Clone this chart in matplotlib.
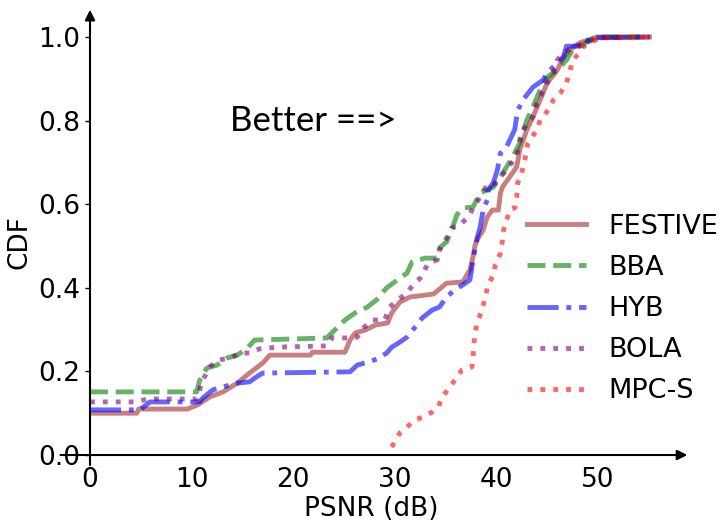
import matplotlib
matplotlib.use("Agg")
import matplotlib.pyplot as plt

# CDF curves (PSNR in dB, cumulative fraction)
festive_x = [0, 4.6, 4.8, 9.6, 10.6, 11.8, 13.1, 14.5, 15.7, 17.0, 17.7, 21.7, 21.9, 25.1,
             25.6, 26.1, 27.1, 28.1, 29.3, 29.7, 30.5, 31.5, 33.8, 34.3, 35.1, 36.7, 37.1,
             37.4, 37.7, 37.9, 38.2, 38.7, 39.1, 39.6, 40.2, 40.4, 40.6, 41.3, 42.0, 42.3,
             43.0, 43.6, 44.3, 45.0, 46.0, 46.6, 47.2, 48.2, 49.9, 55.4]
festive_y = [0.100, 0.100, 0.110, 0.110, 0.120, 0.139, 0.151, 0.172, 0.196, 0.220, 0.239,
             0.239, 0.246, 0.246, 0.275, 0.292, 0.299, 0.311, 0.316, 0.340, 0.366, 0.378,
             0.385, 0.395, 0.411, 0.414, 0.431, 0.443, 0.474, 0.502, 0.519, 0.538, 0.569,
             0.586, 0.586, 0.627, 0.641, 0.665, 0.689, 0.730, 0.778, 0.809, 0.849, 0.890,
             0.921, 0.952, 0.969, 0.986, 1.0, 1.0]

bba_x = [0, 10.5, 10.8, 11.5, 12.5, 13.5, 14.5, 15.5, 16.2, 23.3, 24.3, 25.1, 26.1, 27.3,
         28.2, 29.2, 30.0, 30.5, 31.2, 31.7, 33.0, 34.2, 34.4, 35.1, 35.7, 36.1, 36.7, 37.7,
         38.4, 39.1, 39.7, 40.4, 41.0, 41.6, 42.3, 43.0, 43.6, 44.3, 45.0, 46.0, 46.9, 47.5,
         48.5, 49.2, 50.2, 54.1]
bba_y = [0.151, 0.151, 0.179, 0.208, 0.215, 0.232, 0.239, 0.256, 0.275, 0.280, 0.304, 0.323,
         0.340, 0.354, 0.371, 0.400, 0.414, 0.423, 0.435, 0.462, 0.471, 0.471, 0.495, 0.510,
         0.545, 0.574, 0.591, 0.593, 0.627, 0.634, 0.641, 0.665, 0.689, 0.713, 0.746, 0.801,
         0.833, 0.873, 0.904, 0.921, 0.945, 0.969, 0.981, 0.993, 1.0, 1.0]

hyb_x = [0, 4.9, 5.9, 10.8, 11.1, 12.1, 13.1, 14.5, 15.7, 16.4, 17.0, 25.6, 26.3, 27.3,
         28.3, 29.2, 29.7, 30.5, 31.2, 32.0, 32.7, 33.7, 34.4, 35.1, 35.9, 36.7, 37.4, 37.7,
         38.1, 38.4, 38.7, 39.1, 39.2, 39.7, 40.1, 40.4, 41.0, 41.8, 42.1, 42.6, 43.6, 44.6,
         45.0, 46.6, 46.9, 48.7, 49.2, 55.1]
hyb_y = [0.108, 0.108, 0.127, 0.127, 0.136, 0.156, 0.163, 0.172, 0.175, 0.187, 0.196, 0.199,
         0.215, 0.222, 0.230, 0.244, 0.258, 0.270, 0.282, 0.306, 0.328, 0.347, 0.354, 0.378,
         0.395, 0.407, 0.419, 0.467, 0.519, 0.545, 0.586, 0.610, 0.634, 0.651, 0.682, 0.722,
         0.737, 0.778, 0.825, 0.849, 0.880, 0.897, 0.914, 0.952, 0.978, 0.978, 0.998, 1.0]

bola_x = [0, 4.6, 5.6, 10.5, 11.1, 11.8, 12.6, 13.8, 14.8, 15.7, 16.7, 18.4, 23.3, 23.8,
          25.1, 26.3, 26.9, 27.8, 29.0, 29.5, 30.3, 31.2, 31.8, 32.5, 33.3, 34.2, 34.4, 35.1,
          35.6, 36.4, 37.2, 37.9, 38.4, 38.9, 39.6, 40.1, 41.0, 42.0, 42.3, 42.6, 43.6, 44.0,
          45.0, 45.6, 46.0, 46.6, 47.5, 48.9, 49.9, 55.8]
bola_y = [0.127, 0.127, 0.134, 0.134, 0.179, 0.211, 0.227, 0.232, 0.244, 0.244, 0.254, 0.258,
          0.261, 0.280, 0.280, 0.282, 0.304, 0.323, 0.323, 0.354, 0.371, 0.388, 0.407, 0.423,
          0.459, 0.467, 0.490, 0.519, 0.543, 0.550, 0.569, 0.598, 0.617, 0.639, 0.641, 0.658,
          0.682, 0.715, 0.754, 0.778, 0.809, 0.842, 0.890, 0.914, 0.945, 0.962, 0.976, 0.986,
          0.998, 1.0]

mpc_x = [29.7, 30.5, 31.2, 32.0, 32.8, 33.7, 34.3, 34.6, 35.2, 35.7, 36.6, 37.6, 37.7, 37.8,
         37.9, 38.2, 38.6, 38.9, 39.2, 39.7, 39.9, 40.4, 40.6, 40.7, 41.1, 41.3, 41.8, 42.0,
         42.1, 42.5, 42.8, 43.1, 44.0, 44.3, 45.1, 45.6, 46.3, 46.9, 47.2, 47.5, 48.2, 48.5,
         49.2, 50.2, 55.4]
mpc_y = [0.019, 0.053, 0.067, 0.084, 0.091, 0.103, 0.115, 0.136, 0.156, 0.172, 0.203, 0.211,
         0.234, 0.268, 0.294, 0.323, 0.347, 0.378, 0.407, 0.431, 0.455, 0.483, 0.514, 0.538,
         0.569, 0.586, 0.591, 0.617, 0.651, 0.675, 0.706, 0.746, 0.778, 0.801, 0.825, 0.849,
         0.866, 0.890, 0.914, 0.945, 0.962, 0.976, 0.986, 0.998, 1.0]

series = [
    ("FESTIVE", festive_x, festive_y, "brown", "-"),
    ("BBA", bba_x, bba_y, "green", "--"),
    ("HYB", hyb_x, hyb_y, "blue", "-."),
    ("BOLA", bola_x, bola_y, "purple", ":"),
    ("MPC-S", mpc_x, mpc_y, "red", ":"),
]

fig = plt.figure(figsize=(7.24, 5.31), dpi=100)
ax = fig.add_axes([0.1243, 0.1431, 0.776, 0.803])

for name, xs, ys, color, ls in series:
    ax.plot(xs, ys, color=color, ls=ls, lw=3.5, alpha=0.6, label=name)

ax.set_xlim(0, 55.3)
ax.set_ylim(0, 1.02)
for side in ["top", "right", "left", "bottom"]:
    ax.spines[side].set_visible(False)

# axis lines with arrow heads
arrow = dict(arrowstyle="-|>", color="black", lw=1.5, mutation_scale=15, shrinkA=0, shrinkB=0)
ax.annotate("", xy=(58.8, 0), xytext=(-2.9, 0), arrowprops=arrow, annotation_clip=False)
ax.annotate("", xy=(0, 1.065), xytext=(0, -0.024), arrowprops=arrow, annotation_clip=False)

ax.set_xticks([0, 10, 20, 30, 40, 50])
ax.set_yticks([0.0, 0.2, 0.4, 0.6, 0.8, 1.0])
ax.tick_params(axis="x", length=0, pad=8.5, labelsize=19)
ax.tick_params(axis="y", length=3.5, width=1, labelsize=19)
ax.set_xlabel("PSNR (dB)", fontsize=19, labelpad=2)
ax.set_ylabel("CDF", fontsize=19)

ax.text(13.8, 0.80, "Better ==>", fontsize=25, family="Lato", va="center", ha="left")

ax.legend(loc="upper left", bbox_to_anchor=(0.694, 0.643), bbox_transform=fig.transFigure,
          frameon=False, fontsize=19.5, handlelength=2.2, labelspacing=0.555)

fig.savefig("out.png", dpi=100)
